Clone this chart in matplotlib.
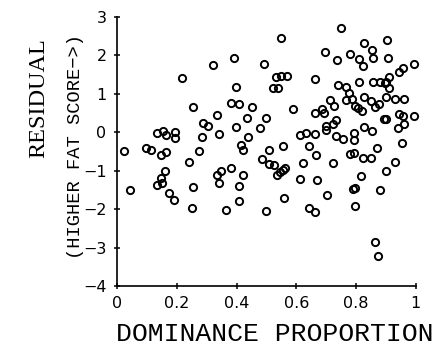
import matplotlib
matplotlib.use("Agg")
import matplotlib.pyplot as plt

dominance = [
    0.022, 0.043, 0.096, 0.114, 0.133, 0.155, 0.163, 0.195, 0.195, 0.146,
    0.163, 0.161, 0.148, 0.150, 0.134, 0.174, 0.192, 0.218, 0.242, 0.253,
    0.250, 0.255, 0.274, 0.284, 0.289, 0.306, 0.320, 0.333, 0.340, 0.333,
    0.348, 0.340, 0.365, 0.380, 0.380, 0.391, 0.397, 0.408, 0.398, 0.415,
    0.420, 0.420, 0.408, 0.409, 0.435, 0.437, 0.452, 0.477, 0.491, 0.497,
    0.486, 0.499, 0.507, 0.510, 0.527, 0.535, 0.544, 0.557, 0.562, 0.557,
    0.558, 0.532, 0.550, 0.568, 0.521, 0.539, 0.550, 0.589, 0.614, 0.632,
    0.664, 0.643, 0.666, 0.622, 0.611, 0.670, 0.642, 0.664, 0.664, 0.663,
    0.686, 0.694, 0.695, 0.700, 0.722, 0.698, 0.734, 0.724, 0.702, 0.737,
    0.738, 0.766, 0.712, 0.725, 0.750, 0.780, 0.809, 0.823, 0.826, 0.855,
    0.857, 0.905, 0.907, 0.993, 0.958, 0.945, 0.810, 0.858, 0.880, 0.900,
    0.910, 0.898, 0.911, 0.777, 0.766, 0.785, 0.797, 0.808, 0.821, 0.826,
    0.851, 0.864, 0.878, 0.900, 0.930, 0.960, 0.892, 0.899, 0.944, 0.956,
    0.994, 0.960, 0.940, 0.826, 0.855, 0.734, 0.755, 0.792, 0.792, 0.870,
    0.955, 0.780, 0.794, 0.823, 0.849, 0.932, 0.900, 0.818, 0.790, 0.797,
    0.881, 0.796, 0.862, 0.874,
]
residual = [
    -0.49, -1.51, -0.40, -0.46, -0.01, 0.03, -0.07, 0.02, -0.15, -0.59,
    -0.50, -1.00, -1.18, -1.32, -1.38, -1.57, -1.77, 1.42, -0.76, -1.42,
    -1.97, 0.66, -0.48, -0.11, 0.25, 0.16, 1.75, 0.44, -0.05, -1.11,
    -1.02, -1.31, -2.03, -0.94, 0.77, 1.94, 1.17, 0.74, 0.15, -0.33,
    -0.46, -1.10, -1.41, -1.79, 0.36, -0.12, 0.66, 0.11, 1.78, 0.38,
    -0.70, -2.04, -0.46, -0.82, -0.85, -1.10, -1.03, -0.98, -0.92, -0.35,
    -1.72, 1.45, 1.46, 1.47, 1.16, 1.14, 2.46, 0.60, -0.08, -0.03,
    -0.04, -0.36, -0.60, -0.80, -1.22, -1.23, -1.98, -2.07, 1.39, 0.49,
    0.60, 0.51, 2.10, 0.16, 0.21, 0.06, 0.33, -0.79, -1.62, 1.89,
    1.24, 1.18, 0.85, 0.68, 2.71, 2.03, 1.92, 1.73, 2.32, 2.15,
    1.94, 2.41, 1.94, 1.77, 1.68, 1.57, 1.31, 1.31, 1.32, 1.32,
    1.44, 1.27, 1.14, 1.02, 0.83, 0.86, 0.69, 0.62, 0.55, 0.93,
    0.82, 0.67, 0.74, 0.92, 0.87, 0.86, 0.34, 0.34, 0.48, 0.43,
    0.42, 0.22, 0.11, 0.14, 0.03, -0.10, -0.17, -0.02, -0.19, -0.40,
    -0.27, -0.57, -0.54, -0.67, -0.68, -0.76, -1.01, -1.14, -1.48, -1.45,
    -1.51, -1.91, -2.86, -3.21,
]
x_ticks = [0, 0.2, 0.4, 0.6, 0.8, 1]
x_tick_labels = ["0", "0.2", "0.4", "0.6", "0.8", "1"]
y_ticks = [-4, -3, -2, -1, 0, 1, 2, 3]
x_label = "DOMINANCE PROPORTION"
y_label = "RESIDUAL"
y_sublabel = "(HIGHER FAT SCORE\u2212>)"

fig = plt.figure(figsize=(4.4, 3.54), dpi=100)
ax = fig.add_axes([0.266, 0.192, 0.679, 0.760])
ax.plot(dominance, residual, linestyle="none", marker="o", markersize=5.2,
        markerfacecolor="none", markeredgecolor="black", markeredgewidth=1.4,
        clip_on=False)
ax.set_xlim(0, 1)
ax.set_ylim(-4, 3)
for side in ("top", "right"):
    ax.spines[side].set_visible(False)
for side in ("left", "bottom"):
    ax.spines[side].set_linewidth(1.2)
ax.set_xticks(x_ticks)
ax.set_xticklabels(x_tick_labels)
ax.set_yticks(y_ticks)
ax.tick_params(direction="inout", length=5, width=1.1, labelsize=11.5, pad=5)
for lab in ax.get_xticklabels() + ax.get_yticklabels():
    lab.set_family("DejaVu Sans")

ax.set_xlabel(x_label, fontsize=19, family="Liberation Mono")
ax.xaxis.set_label_coords(0.528, -0.18)
ax.xaxis.label.set_va("center")
ax.set_ylabel(y_label, fontsize=17.5, family="Liberation Serif")
ax.yaxis.set_label_coords(-0.262, 0.70)
ax.yaxis.label.set_va("center")
ax.text(-0.14, 0.52, y_sublabel, transform=ax.transAxes, rotation=90,
        ha="center", va="center", fontsize=13.5, family="Liberation Mono")

fig.savefig("out.png", dpi=100)
